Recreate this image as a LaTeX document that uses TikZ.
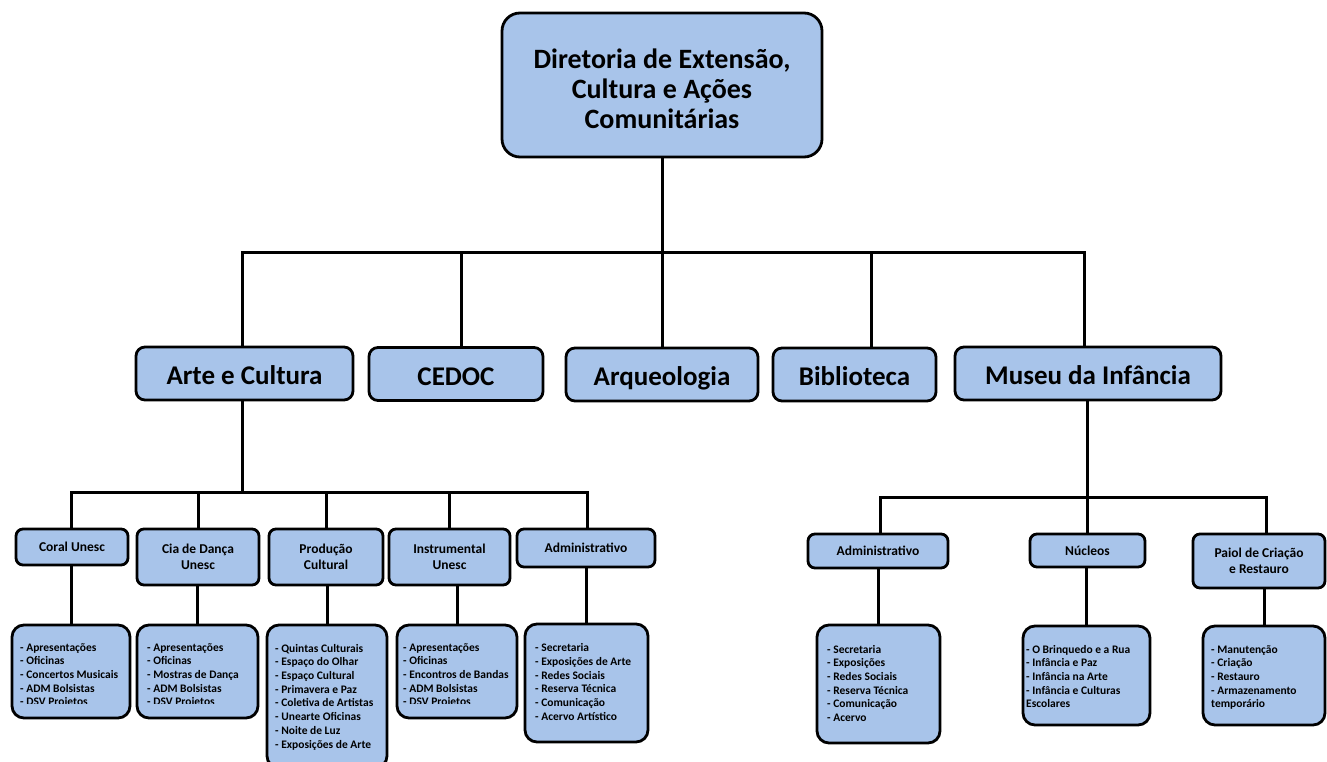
\documentclass[tikz,border=0pt]{standalone}
\usepackage{fontspec}
\setmainfont{Carlito}
\definecolor{boxblue}{RGB}{168,196,234}
\begin{document}
\begin{tikzpicture}[x=1pt,y=-1pt,
  box/.style={draw=black, line width=2.8pt, fill=boxblue, rounded corners=9pt, inner sep=0pt, text=black},
  topbox/.style={box, align=center, rounded corners=18pt, font=\fontsize{28}{30}\selectfont\bfseries},
  lvtwo/.style={box, minimum height=53pt, text height=24pt, text depth=2pt, font=\fontsize{27}{30}\selectfont\bfseries},
  lvthree/.style={box, rounded corners=7pt, font=\fontsize{13.5}{16}\selectfont\bfseries},
  twol/.style={align=center},
  onel/.style={text height=10pt, text depth=1pt},
  lvfour/.style={box, rounded corners=12pt},
  itemtext/.style={anchor=north west, inner sep=0pt, align=left, text=black, font=\fontsize{11.5}{13.7}\selectfont\bfseries},
  conn/.style={draw=black, line width=3pt, line join=miter}
]
\useasboundingbox (0,0) rectangle (1327,762);

% ---------- level 1 ----------
\node[topbox, minimum width=320pt, minimum height=144pt] (top) at (662,85) {\rule{0pt}{27pt}Diretoria de Extensão,\\Cultura e Ações\\Comunitárias};

% ---------- level 2 ----------
\node[lvtwo, minimum width=217pt] (arte) at (244.5,373.5) {Arte e Cultura};
\node[lvtwo, minimum width=174pt] (cedoc) at (456,374) {CEDOC};
\node[lvtwo, minimum width=192pt] (arq) at (662,374.5) {Arqueologia};
\node[lvtwo, minimum width=163pt] (bib) at (854.5,374.5) {Biblioteca};
\node[lvtwo, minimum width=266pt] (mus) at (1088,373.5) {Museu da Infância};

% ---------- level 3 ----------
\node[lvthree, onel, minimum width=112pt, minimum height=36pt] (coral) at (72,547) {Coral Unesc};
\node[lvthree, twol, minimum width=122pt, minimum height=56pt] (cia) at (198,557) {Cia de Dança\\Unesc};
\node[lvthree, twol, minimum width=114pt, minimum height=56pt] (prod) at (326,557) {Produção\\Cultural};
\node[lvthree, twol, minimum width=121pt, minimum height=56pt] (inst) at (449.5,557) {Instrumental\\Unesc};
\node[lvthree, onel, minimum width=138pt, minimum height=38pt] (adma) at (586,548) {Administrativo};
\node[lvthree, onel, minimum width=140pt, minimum height=34pt] (admb) at (878,551) {Administrativo};
\node[lvthree, onel, minimum width=115pt, minimum height=33pt] (nuc) at (1087.5,550.5) {Núcleos};
\node[lvthree, twol, minimum width=132pt, minimum height=54pt] (paiol) at (1259,561) {Paiol de Criação\\e Restauro};

% ---------- level 4 boxes ----------
\node[lvfour, minimum width=118pt, minimum height=93pt] (coralL) at (71,671.5) {};
\node[lvfour, minimum width=121pt, minimum height=93pt] (ciaL) at (197.5,671.5) {};
\node[lvfour, minimum width=120pt, minimum height=143pt] (prodL) at (327,696.5) {};
\node[lvfour, minimum width=120pt, minimum height=93pt] (instL) at (457,671.5) {};
\node[lvfour, minimum width=123pt, minimum height=118pt] (admaL) at (586.5,683) {};
\node[lvfour, minimum width=123pt, minimum height=118pt] (admbL) at (878.5,684) {};
\node[lvfour, minimum width=127pt, minimum height=99pt] (nucL) at (1086.5,675.5) {};
\node[lvfour, minimum width=122pt, minimum height=99pt] (paiolL) at (1264,675.5) {};

% ---------- level 4 texts ----------
\begin{scope}
\clip (12,625) rectangle (517,703);
\node[itemtext] (coralT) at (20,641.4) {\strut- Apresentações\\- Oficinas\\- Concertos Musicais\\- ADM Bolsistas\\- DSV Projetos};
\node[itemtext] (ciaT) at (147,641.4) {\strut- Apresentações\\- Oficinas\\- Mostras de Dança\\- ADM Bolsistas\\- DSV Projetos};
\node[itemtext] (instT) at (403,641.4) {\strut- Apresentações\\- Oficinas\\- Encontros de Bandas\\- ADM Bolsistas\\- DSV Projetos};
\end{scope}
\node[itemtext] (prodT) at (275,642.4) {\strut- Quintas Culturais\\- Espaço do Olhar\\- Espaço Cultural\\- Primavera e Paz\\- Coletiva de Artistas\\- Unearte Oficinas\\- Noite de Luz\\- Exposições de Arte};
\node[itemtext] (admaT) at (535,642) {\strut- Secretaria\\- Exposições de Arte\\- Redes Sociais\\- Reserva Técnica\\- Comunicação\\- Acervo Artístico};
\node[itemtext] (admbT) at (827,643.4) {\strut- Secretaria\\- Exposições\\- Redes Sociais\\- Reserva Técnica\\- Comunicação\\- Acervo};
\node[itemtext] (nucT) at (1026,643.4) {\strut- O Brinquedo e a Rua\\- Infância e Paz\\- Infância na Arte\\- Infância e Culturas\\Escolares};
\node[itemtext] (paiolT) at (1211,643.4) {\strut- Manutenção\\- Criação\\- Restauro\\- Armazenamento\\temporário};

% ---------- connectors level 1 -> 2 ----------
\coordinate (bL) at (242,252);
\coordinate (bR) at (1084,252);
\coordinate (bC) at (461,252);
\coordinate (bB) at (871,252);
\draw[conn] (top.south) -- (arq.north);
\draw[conn] (arte.north -| bL) -- (bL) -- (bR) -- (mus.north -| bR);
\draw[conn] (bC) -- (cedoc.north -| bC);
\draw[conn] (bB) -- (bib.north -| bB);

% ---------- Arte e Cultura -> level 3 ----------
\coordinate (cM) at (242,492);
\coordinate (cL) at (71,492);
\coordinate (cR) at (587,492);
\draw[conn] (arte.south -| cM) -- (cM);
\draw[conn] (coral.north -| cL) -- (cL) -- (cR) -- (adma.north -| cR);
\draw[conn] (cia.north) -- (cia.north |- cM);
\draw[conn] (prod.north) -- (prod.north |- cM);
\draw[conn] (inst.north) -- (inst.north |- cM);

% ---------- Museu -> level 3 ----------
\coordinate (dM) at (1087,497);
\coordinate (dL) at (880,497);
\coordinate (dR) at (1266,497);
\draw[conn] (mus.south -| dM) -- (dM);
\draw[conn] (admb.north -| dL) -- (dL) -- (dR) -- (paiol.north -| dR);
\draw[conn] (nuc.north) -- (nuc.north |- dM);

% ---------- level 3 -> level 4 ----------
\draw[conn] (coral.south -| coralL.north) -- (coralL.north);
\draw[conn] (cia.south -| ciaL.north) -- (ciaL.north);
\draw[conn] (prod.south -| prodL.north) -- (prodL.north);
\draw[conn] (inst.south -| instL.north) -- (instL.north);
\draw[conn] (adma.south -| admaL.north) -- (admaL.north);
\draw[conn] (admb.south -| admbL.north) -- (admbL.north);
\draw[conn] (nuc.south -| nucL.north) -- (nucL.north);
\draw[conn] (paiol.south -| paiolL.north) -- (paiolL.north);
\end{tikzpicture}
\end{document}
